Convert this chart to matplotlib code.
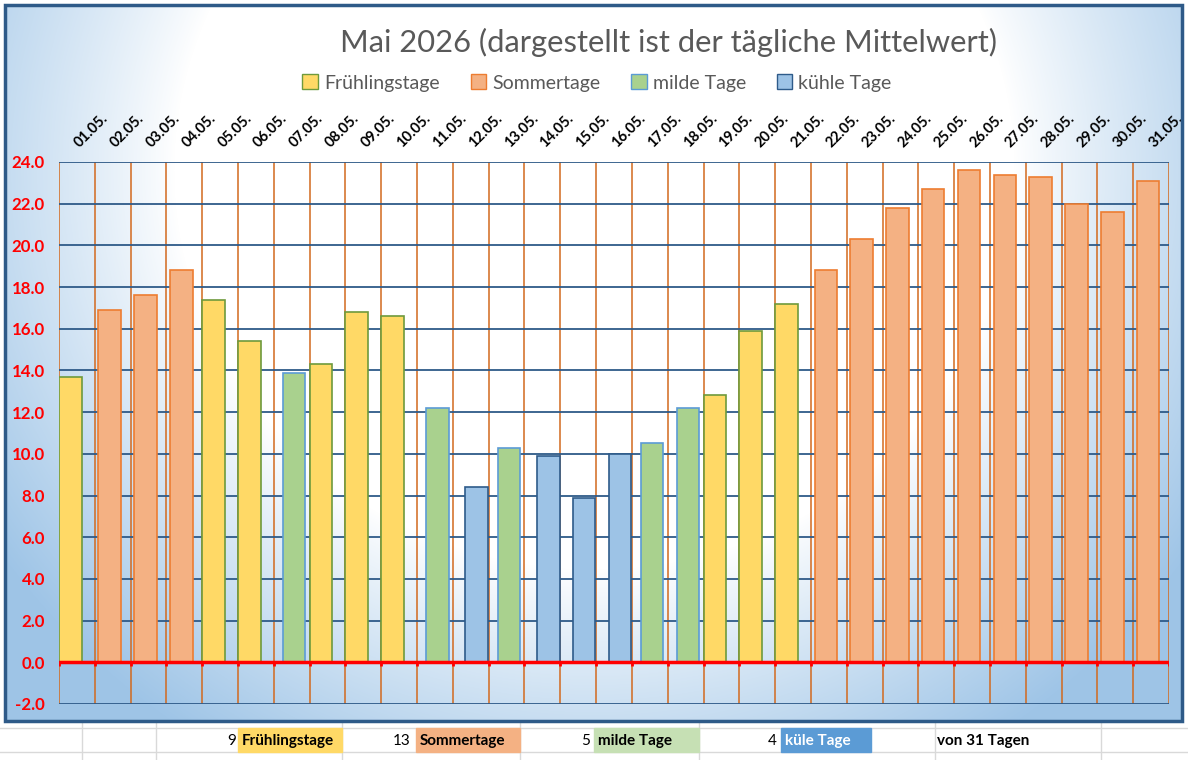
import matplotlib.pyplot as plt
import matplotlib.transforms as mtrans
import numpy as np
from matplotlib.patches import Rectangle, Patch
from matplotlib.lines import Line2D

plt.rcParams['font.family'] = ['Lato', 'DejaVu Sans']

# Tagesmittel Mai 2026
tage = [f'{d:02d}.05.' for d in range(1, 32)]
werte = [13.7, 16.9, 17.6, 18.8, 17.4, 15.4, 13.9, 14.3, 16.8, 16.6,
         12.2, 8.4, 10.3, 9.9, 7.9, 10.0, 10.5, 12.2, 12.8, 15.9,
         17.2, 18.8, 20.3, 21.8, 22.7, 23.6, 23.4, 23.3, 22.0, 21.6, 23.1]
art = ['F', 'S', 'S', 'S', 'F', 'F', 'M', 'F', 'F', 'F',
       'M', 'K', 'M', 'K', 'K', 'K', 'M', 'M', 'F', 'F',
       'F', 'S', 'S', 'S', 'S', 'S', 'S', 'S', 'S', 'S', 'S']
y_ticks = [-2, 0, 2, 4, 6, 8, 10, 12, 14, 16, 18, 20, 22, 24]

serien = {
    'F': ('Frühlingstage', '#FFD966', '#6E9A3C', 0.0),
    'S': ('Sommertage', '#F4B183', '#ED7D31', 0.10),
    'M': ('milde Tage', '#A9D18E', '#5B9BD5', 0.25),
    'K': ('kühle Tage', '#9DC3E6', '#2E5B8A', 0.35),
}

W, H = 1188, 760
fx = lambda px: px / W
fy = lambda py: 1 - py / H

fig = plt.figure(figsize=(W / 100, H / 100), dpi=100)

# Tabellen-Gitter hinter dem Diagramm
for yy in [728, 752]:
    fig.add_artist(Line2D([0, 1], [fy(yy), fy(yy)], color='#d9d9d9', lw=1))
for xx in [82, 156, 342, 520, 699, 935, 1101]:
    fig.add_artist(Line2D([fx(xx), fx(xx)], [fy(722), 0], color='#d9d9d9', lw=1))

# Hintergrund mit Verlauf
x0, x1, y0, y1 = 5, 1182, 5, 721
bg = fig.add_axes([fx(x0), fy(y1), (x1 - x0) / W, (y1 - y0) / H])
gx, gy = np.meshgrid(np.arange(x0, x1), np.arange(y0, y1))
d = np.sqrt(((gx - 594) / 1.0) ** 2 + ((gy - 170) / 0.95) ** 2)
t = np.clip((d - 420) / 300, 0, 1) ** 0.9
blau = np.array([0.62, 0.77, 0.905])
grad = (1 - t[..., None]) * np.ones(3) + t[..., None] * blau
bg.imshow(grad, extent=[x0, x1, y1, y0], aspect='auto')
bg.set_xlim(x0, x1)
bg.set_ylim(y1, y0)
bg.axis('off')
fig.add_artist(Rectangle((fx(x0), fy(y1)), (x1 - x0) / W, (y1 - y0) / H,
                         transform=fig.transFigure, fill=False,
                         edgecolor='#2E5A88', lw=2.5, zorder=10))

ax = fig.add_axes([fx(59), fy(704), 1110 / W, 542 / H])
ax.patch.set_alpha(0)

breite = 0.63
for key, (name, farbe, rand, off) in serien.items():
    xs = [i + off for i, a in enumerate(art) if a == key]
    ys = [w for w, a in zip(werte, art) if a == key]
    ax.bar(xs, ys, width=breite, align='edge', color=farbe, edgecolor=rand,
           linewidth=1.2, label=name, zorder=3)

ax.set_xlim(0, len(tage))
ax.set_ylim(-2, 24)
ax.set_yticks(y_ticks)
ax.set_yticklabels([f'{v:.1f}' for v in y_ticks], color='#FF0000',
                   fontweight='bold', fontsize=12.2)
ax.set_xticks(np.arange(len(tage)) + 0.5)
ax.set_xticklabels(tage, rotation=45, ha='left', va='baseline',
                   rotation_mode='anchor', fontweight='bold', fontsize=10.5)
ax.set_xticks(np.arange(len(tage) + 1), minor=True)
ax.xaxis.tick_top()
ax.tick_params(axis='x', which='both', length=0, pad=10)
ax.tick_params(axis='y', length=0, pad=10)
versatz = mtrans.ScaledTranslation(0.03, 0, fig.dpi_scale_trans)
for lab in ax.get_xticklabels():
    lab.set_transform(lab.get_transform() + versatz)
ax.grid(axis='y', which='major', color='#2E5A88', lw=1.3, zorder=1)
ax.grid(axis='x', which='minor', color='#D2691E', lw=1.1, zorder=1)
for s in ax.spines.values():
    s.set_visible(False)

ax.axhline(0, color='#FF0000', lw=2.5, zorder=5)
ax.vlines(np.arange(len(tage) + 1), -0.18, 0, color='#FF0000', lw=2, zorder=5)

# Titel und Legende
fig.text(fx(668), fy(42), 'Mai 2026 (dargestellt ist der tägliche Mittelwert)',
         ha='center', va='center', fontsize=22.2, color='#595959')
handles = [Patch(facecolor=f, edgecolor=r, label=n) for n, f, r, o in serien.values()]
fig.legend(handles=handles, loc='center', bbox_to_anchor=(fx(597), fy(83)),
           ncol=4, frameon=False, fontsize=14, labelcolor='#595959',
           handlelength=0.8, handleheight=0.8, handletextpad=0.3,
           columnspacing=1.6)

# Zusammenfassung unter dem Diagramm
zellen = [('F', 236, 238, 342, 'Frühlingstage', '#FFD966', 'black'),
          ('S', 411, 416, 520, 'Sommertage', '#F4B183', 'black'),
          ('M', 590, 594, 699, 'milde Tage', '#C6E0B4', 'black'),
          ('K', 777, 781, 871, 'küle Tage', '#5B9BD5', 'white')]
for key, xn, xa, xb, txt, farbe, tf in zellen:
    fig.add_artist(Rectangle((fx(xa), fy(752)), (xb - xa) / W, 24 / H,
                             transform=fig.transFigure, color=farbe, zorder=2))
    fig.text(fx(xn), fy(741), str(art.count(key)), ha='right', va='center',
             fontsize=11, zorder=3)
    fig.text(fx(xa + 4), fy(741), txt, ha='left', va='center', fontsize=11,
             fontweight='bold', color=tf, zorder=3)
fig.text(fx(937), fy(741), f'von {len(tage)} Tagen', ha='left', va='center',
         fontsize=11, fontweight='bold')

fig.savefig('out.png', dpi=100)
